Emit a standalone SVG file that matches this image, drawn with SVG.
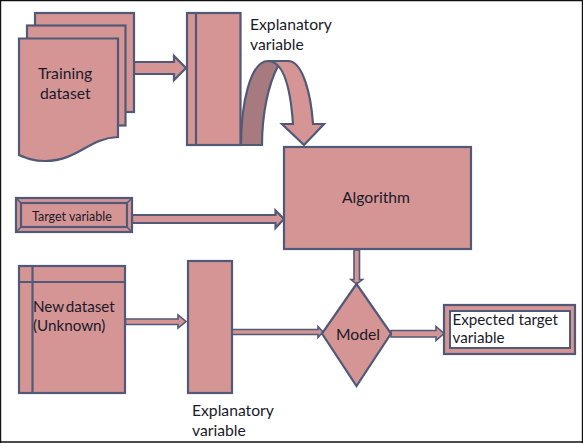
<svg xmlns="http://www.w3.org/2000/svg" width="583" height="443" viewBox="0 0 583 443">
<style>
.s{fill:#d59595;stroke:#505a78;stroke-width:2.2;stroke-linejoin:miter}
.thin{stroke-width:1.6}
.ln{fill:none;stroke:#505a78;stroke-width:2.2}
text{font-family:Lato,"Open Sans","Liberation Sans",sans-serif;font-size:15.7px;fill:#1a1a2a}
</style>
<rect x="0" y="0" width="583" height="443" fill="#fff"/>
<g id="frame"><path d="M0.5 443V0.5H582.5V443M0 442H583" fill="none" stroke="#111" stroke-width="1.4"/></g>
<g id="connectors">
<path class="s" d="M134 62H174V56L186 68L174 80V74H134Z"/>
<path class="s" d="M132 215H275.500V210.500L284 219L275.500 228V223H132Z"/>
<path class="s thin" d="M125.500 319H178V315L186 321.500L178 328V324.500H125.500Z"/>
<path class="s thin" d="M232 329.500H318V326.500L323 332L318 337.500V334.500H232Z"/>
<path class="s thin" d="M391 330.500H436V326.500L444 333.500L436 340.500V337H391Z"/>
<path class="s thin" d="M354 250H359.500V279.500H362.500L356.500 284L351 279.500H354Z"/>
<path d="M241 145C241 105 250 61 268 61C273 61 276 62 278 66C268 85 262 115 262 145Z" fill="#a67a7e" stroke="#505a78" stroke-width="2.200"/>
<path class="s" d="M268 61H288C303 61 311 95 313 124H324L304 145L282 124H293C291 95 285 61 268 61Z"/>
</g>
<g id="training-dataset">
<rect class="s" x="35" y="13" width="99" height="99"/>
<rect class="s" x="27" y="25.500" width="98.500" height="100"/>
<path class="s" d="M19 38.500H118V137C88 138 78 161 45 161C33 161 26 158 19 155Z"/>
<text x="38" y="79">Training</text>
<text x="40" y="99">dataset</text>
</g>
<g id="explanatory-top">
<rect class="s" x="187" y="13" width="53.500" height="132"/>
<path class="ln" d="M196 13V145"/>
<text x="250" y="30">Explanatory</text>
<text x="250" y="50">variable</text>
</g>
<g id="algorithm">
<rect class="s" x="284" y="147" width="187" height="102"/>
<text x="342" y="203">Algorithm</text>
</g>
<g id="target-variable">
<rect x="16" y="198" width="116" height="34" fill="#d59595" stroke="#505a78" stroke-width="2.200"/>
<path d="M16 198L21 203M132 198L127 203M16 232L21 227M132 232L127 227" stroke="#505a78" stroke-width="1.500"/>
<rect x="21" y="203" width="106" height="24" fill="#d59595" stroke="#505a78" stroke-width="2.200"/>
<text x="32" y="221" style="font-size:12.5px">Target variable</text>
</g>
<g id="new-dataset">
<rect class="s" x="19" y="266" width="106" height="127"/>
<path class="ln" d="M19 282H125M32.500 266V393"/>
<text x="33" y="312" style="font-size:15.2px;word-spacing:-2px">New dataset</text>
<text x="33" y="331" style="font-size:15.2px">(Unknown)</text>
</g>
<g id="explanatory-bottom">
<rect class="s" x="188" y="261" width="44" height="132"/>
<text x="192" y="416">Explanatory</text>
<text x="192" y="436">variable</text>
</g>
<g id="model">
<path class="s" d="M356.500 284L391 333.500L356.500 386L322 333.500Z"/>
<text x="336" y="340">Model</text>
</g>
<g id="expected-target">
<rect class="s" x="444" y="305" width="131" height="49"/>
<rect x="450" y="311" width="120" height="37" fill="#fff" stroke="#505a78" stroke-width="2"/>
<text x="452.500" y="325" style="font-size:15.2px">Expected target</text>
<text x="452.500" y="343" style="font-size:15.2px">variable</text>
</g>
</svg>
